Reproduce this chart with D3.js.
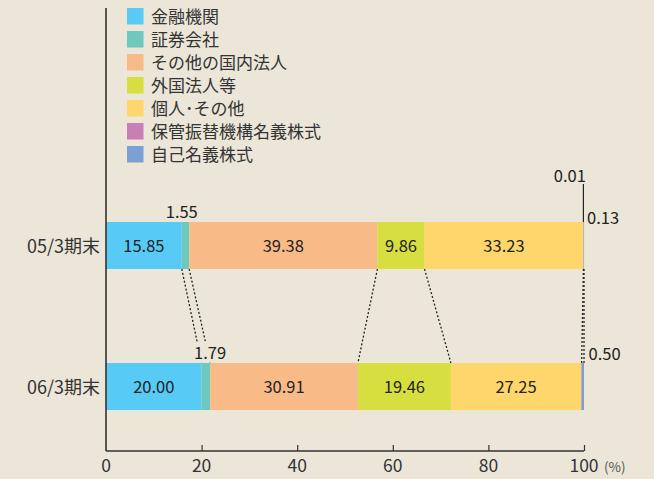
<!DOCTYPE html>
<html lang="ja">
<head>
<meta charset="utf-8">
<script src="https://cdn.jsdelivr.net/npm/d3@7"></script>
<style>
  html, body { margin: 0; padding: 0; background: #ebe6d7; }
  svg { display: block; }
  text { font-family: "Noto Sans CJK JP", "Noto Sans", sans-serif; }
</style>
</head>
<body>
<svg id="chart" width="654" height="479"></svg>
<script>
// Shareholder composition (%), by holder type
const periods = ["05/3期末", "06/3期末"];
const holders = ["金融機関", "証券会社", "その他の国内法人", "外国法人等", "個人･その他", "保管振替機構名義株式", "自己名義株式"];
const colors = ["#57cbf6", "#6dc8bd", "#f8bb88", "#d6df3f", "#fed66b", "#c77fb5", "#7ca0d4"];
const share05 = [15.85, 1.55, 39.38, 9.86, 33.23, 0.01, 0.13];
const share06 = [20.00, 1.79, 30.91, 19.46, 27.25, 0.09, 0.50];
const xTicks = [0, 20, 40, 60, 80, 100];

const shares = [share05, share06];
const svg = d3.select("#chart");
const bg = "#ebe6d7";
const ink = "#222";

const x = d3.scaleLinear().domain([0, 100]).range([106, 584]);
const y = d3.scaleBand().domain(periods).range([151.5, 480.5])
  .paddingInner(2 / 3).paddingOuter(0.5);
const bh = y.bandwidth();

// stacked segments per period
const stacks = periods.map((p, i) => {
  let acc = 0;
  return shares[i].map((v, k) => {
    const s = { period: p, k, v, x0: acc, x1: acc + v };
    acc += v;
    return s;
  });
});

// legend
const legend = svg.append("g");
holders.forEach((h, i) => {
  const g = legend.append("g").attr("transform", `translate(127, ${8 + i * 23})`);
  g.append("rect").attr("width", 16.5).attr("height", 16.5).attr("fill", colors[i]);
  g.append("text").attr("x", 24).attr("y", 15).attr("font-size", 17)
    .attr("fill", "#333").text(h);
});

// dotted connectors between matching segment edges of the two bars
const boundaries = [0, 1, 2, 3, 5, 6];
svg.append("g").selectAll("line").data(boundaries).join("line")
  .attr("x1", k => x(Math.min(100, stacks[0][k].x1)))
  .attr("y1", y(periods[0]) + bh)
  .attr("x2", k => x(Math.min(100, stacks[1][k].x1)))
  .attr("y2", y(periods[1]))
  .attr("stroke", ink).attr("stroke-width", 1.3)
  .attr("stroke-dasharray", "2,2");

// bars
svg.append("g").selectAll("g").data(stacks).join("g")
  .selectAll("rect").data(d => d).join("rect")
  .attr("x", d => x(d.x0))
  .attr("y", d => y(d.period))
  .attr("width", d => Math.max(0, x(d.x1) - x(d.x0)))
  .attr("height", bh)
  .attr("fill", d => colors[d.k]);

// in-bar value labels for the large segments
const big = stacks.flat().filter(d => d.k !== 1 && d.k < 5);
svg.append("g").selectAll("text").data(big).join("text")
  .attr("x", d => x((d.x0 + d.x1) / 2))
  .attr("y", d => y(d.period) + bh / 2 + 6.5)
  .attr("text-anchor", "middle").attr("font-size", 16.5).attr("fill", ink)
  .text(d => d.v.toFixed(2));

// securities firms: labels above the bar
const sec = stacks.map(s => s[1]);
const secLabels = svg.append("g").selectAll("g").data(sec).join("g");
secLabels.append("rect")
  .attr("x", d => x(d.period === periods[0] ? d.x0 : d.x1) - 18)
  .attr("y", d => y(d.period) - 20)
  .attr("width", 36).attr("height", 18)
  .attr("fill", d => d.period === periods[0] ? "none" : bg);
secLabels.append("text")
  .attr("x", d => x(d.period === periods[0] ? d.x0 : d.x1))
  .attr("y", d => y(d.period) - 4)
  .attr("text-anchor", "middle").attr("font-size", 16.5).attr("fill", ink)
  .text(d => d.v.toFixed(2));

// custody-name shares (05 only) with a leader line
const cust = stacks[0][5];
svg.append("line")
  .attr("x1", x(cust.x1)).attr("x2", x(cust.x1))
  .attr("y1", 184).attr("y2", y(periods[0]))
  .attr("stroke", ink).attr("stroke-width", 1.2);
svg.append("text")
  .attr("x", x(cust.x1) + 2.5).attr("y", 182)
  .attr("text-anchor", "end").attr("font-size", 16.5).attr("fill", ink)
  .text(cust.v.toFixed(2));

// treasury stock: labels to the right of the bar end
const own = stacks.map(s => s[6]);
svg.append("g").selectAll("text").data(own).join("text")
  .attr("x", (d, i) => x(100) + (i === 0 ? 3 : 4.5))
  .attr("y", d => y(d.period) + 2 - (d.period === periods[0] ? 0 : 5))
  .attr("font-size", 16.5).attr("fill", ink)
  .text(d => d.v.toFixed(2));

// axes
svg.append("line").attr("x1", x(0)).attr("x2", x(0)).attr("y1", 8).attr("y2", 451)
  .attr("stroke", "#333").attr("stroke-width", 1.6);
const xAxis = svg.append("g").attr("transform", "translate(0,451)")
  .call(d3.axisTop(x).tickValues(xTicks).tickSize(6).tickFormat(""));
xAxis.select(".domain").attr("stroke", "#333").attr("stroke-width", 1.5)
  .attr("d", `M${x(0)},0H${x(100)}`);
xAxis.selectAll(".tick line").attr("stroke", "#333").attr("stroke-width", 1.2);
xAxis.selectAll(".tick").filter(d => d === 0).select("line").remove();

svg.append("g").selectAll("text").data(xTicks).join("text")
  .attr("x", d => x(d)).attr("y", 472)
  .attr("text-anchor", "middle").attr("font-size", 17.5).attr("fill", "#333")
  .text(d => d);
svg.append("text").attr("x", 604).attr("y", 472).attr("font-size", 13.5)
  .attr("fill", "#555").text("(%)");

// period labels
svg.append("g").selectAll("text").data(periods).join("text")
  .attr("x", 100).attr("y", d => y(d) + bh / 2 + 7)
  .attr("text-anchor", "end").attr("font-size", 18).attr("fill", "#333")
  .text(d => d);
</script>
</body>
</html>
